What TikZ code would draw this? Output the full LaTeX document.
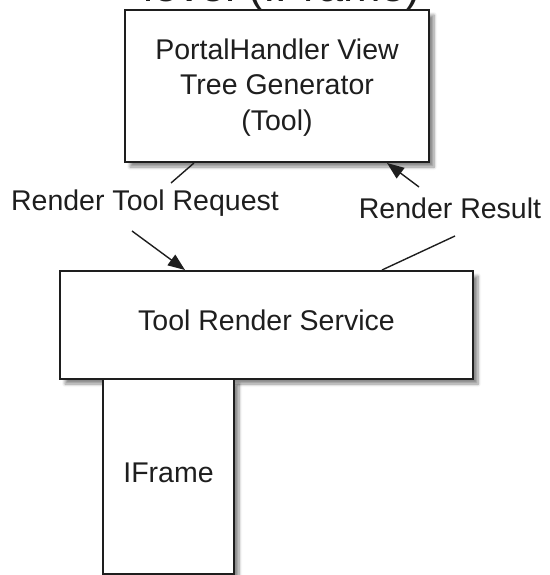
\documentclass[tikz,border=0pt]{standalone}
\usepackage{fontspec}
\setmainfont{Liberation Sans}
\usetikzlibrary{calc,arrows.meta,shadows.blur}
\definecolor{ink}{HTML}{1E1E1E}
\tikzset{
  boxnode/.style={draw=ink, line width=2pt, fill=white, inner sep=0pt,
    blur shadow={shadow xshift=5pt, shadow yshift=-5pt, shadow blur steps=6, shadow blur radius=3pt, shadow opacity=45}},
  txt/.style={text=ink, font=\fontsize{28.5}{35.5}\selectfont, inner sep=0pt, align=center},
  conn/.style={draw=ink, line width=1.4pt},
  arr/.style={conn, -{Triangle[length=17pt,width=13pt]}},
}
\begin{document}
\begin{tikzpicture}[x=1pt,y=-1pt]
\useasboundingbox (0,0) rectangle (549,575);
\clip (0,0) rectangle (549,575);
\node[text=ink, font=\fontsize{45}{50}\selectfont, inner sep=0pt, anchor=base] (lvl) at (282,1.5) {level (IFrame)};
\node[boxnode, minimum width=304pt, minimum height=152pt] (tool) at (277,86) {};
\node[txt] (tooltxt) at (277,87.5) {PortalHandler View\\Tree Generator\\(Tool)};
\node[boxnode, minimum width=413pt, minimum height=108pt] (svc) at (266.5,325) {};
\node[txt] (svctxt) at ($(svc.center)+(0,-5)$) {Tool Render Service};
\node[boxnode, minimum width=131pt, minimum height=195pt] (ifr) at (168.5,476.5) {};
\node[txt] (ifrtxt) at ($(ifr.center)+(0,-4)$) {IFrame};
\node[txt] (req) at (145,203) {Render Tool Request};
\node[txt] (res) at (450,208) {Render Result};
% Render Tool Request
\draw[conn] ($(tool.south west)+(70,0)$) -- ($(req.center)+(26,-20)$);
\draw[arr] ($(req.center)+(-13,28)$) -- ($(svc.north west)+(126,0)$);
% Render Result
\draw[conn] ($(res.center)+(5,28)$) -- ($(svc.north west)+(323,0)$);
\draw[arr] ($(res.center)+(-31,-21)$) -- ($(tool.south west)+(263,0)$);
\end{tikzpicture}
\end{document}
